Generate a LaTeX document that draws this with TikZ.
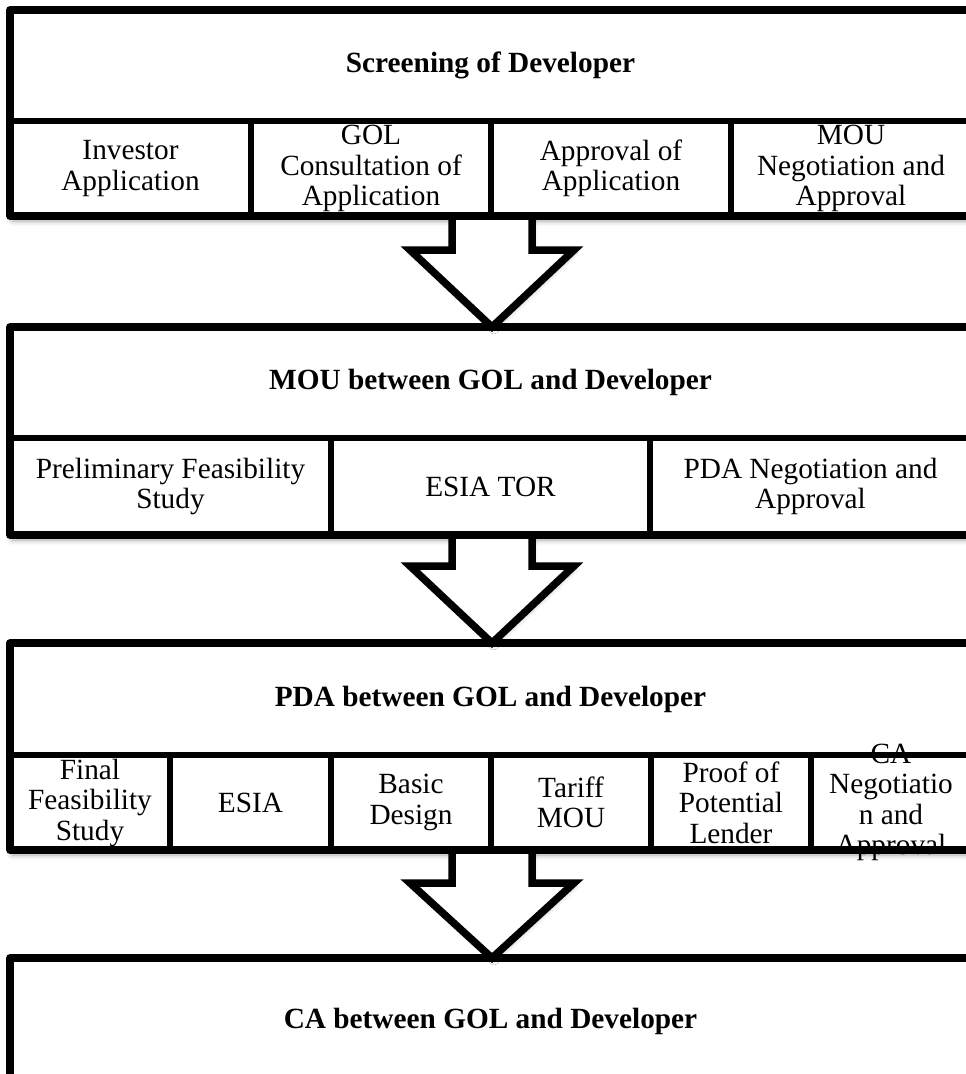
\documentclass[tikz,border=0pt]{standalone}
\usepackage{fontspec}
\setmainfont{Liberation Serif}
\usetikzlibrary{calc,shadows.blur}

\tikzset{
  x=1pt, y=-1pt,
  outerline/.style={line width=7.5pt, line join=round, line cap=round},
  innerline/.style={line width=5.5pt},
  boxshade/.style={fill=white, draw=none,
    blur shadow={shadow xshift=2pt, shadow yshift=-5pt, shadow blur radius=5pt,
                 shadow opacity=35}},
  headtext/.style={font=\bfseries\fontsize{29.3}{31}\selectfont, align=center, inner sep=0pt},
  celltext/.style={font=\fontsize{29.3}{30.5}\selectfont, align=center, inner sep=0pt},
  blockarrow/.style={fill=white, draw=black, line width=7.5pt, line join=miter,
    blur shadow={shadow xshift=2pt, shadow yshift=-3pt, shadow blur radius=4pt,
                 shadow opacity=25}},
}

% hollow down arrow from the bottom of one box to the top of the next
\newcommand{\hollowdown}[3]{%
  \draw[blockarrow] let \p1=(#1), \p2=(#2) in
    (\x1-40pt,\y1) -- (\x1-40pt,\y1-#3) -- (\x1-82pt,\y1-#3) -- (\x2,\y2)
    -- (\x1+82pt,\y1-#3) -- (\x1+40pt,\y1-#3) -- (\x1+40pt,\y1) -- cycle;}

\begin{document}
\begin{tikzpicture}
\useasboundingbox (0,0) rectangle (966,1074);
\clip (0,0) rectangle (966,1074);

% box corners and arrow end points
\coordinate (b1nw) at (10,10);   \coordinate (b1se) at (971,216);
\coordinate (b1out) at (492,216);
\coordinate (b2nw) at (10,327);  \coordinate (b2se) at (971,535);
\coordinate (b2in) at (492,327); \coordinate (b2out) at (492,535);
\coordinate (b3nw) at (10,643);  \coordinate (b3se) at (971,850);
\coordinate (b3in) at (492,643); \coordinate (b3out) at (492,850);
\coordinate (b4nw) at (10,958);  \coordinate (b4se) at (971,1090);
\coordinate (b4in) at (492,958);

% ---------------- Stage 1: screening ----------------
\fill[boxshade] (b1nw) rectangle (b1se);
\draw[innerline] (10,121) -- (971,121);
\foreach \xx in {251,491,731} \draw[innerline] (\xx,121) -- (\xx,216);
\draw[outerline] (b1nw) rectangle (b1se);
\node[headtext] (h1) at (490.5,65.5) {Screening of Developer};
\node[celltext] (c11) at (130.5,168.5) {Investor\\Application};
\node[celltext] (c12) at (371,168.5) {GOL\\Consultation of\\Application};
\node[celltext] (c13) at (611,168.5) {Approval of\\Application};
\node[celltext] (c14) at (851,168.5) {MOU\\Negotiation and\\Approval};

% ---------------- Stage 2: MOU ----------------
\fill[boxshade] (b2nw) rectangle (b2se);
\draw[innerline] (10,438) -- (971,438);
\foreach \xx in {331,650} \draw[innerline] (\xx,438) -- (\xx,535);
\draw[outerline] (b2nw) rectangle (b2se);
\node[headtext] (h2) at (490.5,382.5) {MOU between GOL and Developer};
\node[celltext] (c21) at (170.5,486.5) {Preliminary Feasibility\\Study};
\node[celltext] (c22) at (490.5,486.5) {ESIA TOR};
\node[celltext] (c23) at (810.5,486.5) {PDA Negotiation and\\Approval};

\hollowdown{b1out}{b2in}{34pt}

% ---------------- Stage 3: PDA ----------------
\fill[boxshade] (b3nw) rectangle (b3se);
\draw[innerline] (10,755) -- (971,755);
\foreach \xx in {170,331,491,651,811} \draw[innerline] (\xx,755) -- (\xx,850);
\draw[outerline] (b3nw) rectangle (b3se);
\node[headtext] (h3) at (490.5,699) {PDA between GOL and Developer};
\node[celltext] (c31) at (90,802.5) {Final\\Feasibility\\Study};
\node[celltext] (c32) at (250.5,802.5) {ESIA};
\node[celltext] (c33) at (411,802.5) {Basic\\Design};
\node[celltext] (c34) at (571,802.5) {Tariff\\MOU};
\node[celltext] (c35) at (731,802.5) {Proof of\\Potential\\Lender};
\node[celltext] (c36) at (891,802.5) {CA\\Negotiatio\\n and\\Approval};

\hollowdown{b2out}{b3in}{31pt}

% ---------------- Stage 4: CA ----------------
\fill[boxshade] (b4nw) rectangle (b4se);
\draw[outerline] (b4nw) rectangle (b4se);
\node[headtext] (h4) at (490.5,1021) {CA between GOL and Developer};

\hollowdown{b3out}{b4in}{33pt}
\end{tikzpicture}
\end{document}
